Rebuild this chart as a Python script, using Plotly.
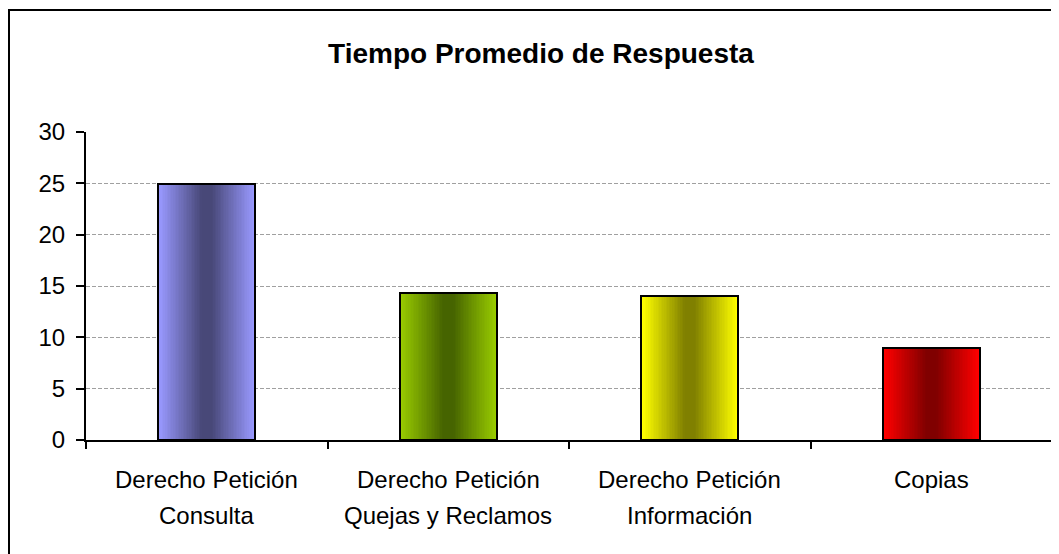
import plotly.graph_objects as go

categories = ["Derecho Petición<br>Consulta", "Derecho Petición<br>Quejas y Reclamos",
              "Derecho Petición<br>Información", "Copias"]
line1 = ["Derecho Petición", "Derecho Petición", "Derecho Petición", "Copias"]
line2 = ["Consulta", "Quejas y Reclamos", "Información", ""]
values = [24.9, 14.3, 14.0, 9.0]
light_colors = [(153, 153, 255), (153, 204, 0), (255, 255, 0), (255, 0, 0)]
dark_colors = [(72, 72, 120), (70, 100, 0), (128, 128, 0), (128, 0, 0)]
y_ticks = [0, 5, 10, 15, 20, 25, 30]

BAR_W = 0.4
N = 30
FONT = "Liberation Sans, Arial, sans-serif"
W, H = 1051, 546          # page body has an 8px margin
L, R, T, B = 78, 7, 124, 114
PW, PH = W - L - R, H - T - B

fig = go.Figure()

def mix(a, b, t):
    return "rgb(%d,%d,%d)" % tuple(round(a[j] + (b[j] - a[j]) * t) for j in range(3))

# nested centered bars: outer light -> inner dark (symmetric gradient)
for k in range(N):
    t = k / (N - 1)
    t = min(1.0, t * 1.1)
    cols = [mix(light_colors[i], dark_colors[i], t) for i in range(len(values))]
    fig.add_trace(go.Bar(
        x=categories, y=values, width=BAR_W * (N - k) / N,
        marker=dict(color=cols, line=dict(width=0)),
        showlegend=False, hoverinfo="skip"))

# outline
fig.add_trace(go.Bar(
    x=categories, y=values, width=BAR_W,
    marker=dict(color="rgba(0,0,0,0)", line=dict(color="black", width=2)),
    showlegend=False))

# category labels (two lines, wider spacing than plotly's default)
for c, a, b in zip(categories, line1, line2):
    fig.add_annotation(x=c, xref="x", y=0, yref="y", text=a, showarrow=False,
                       yshift=-39, font=dict(family=FONT, size=24, color="black"))
    if b:
        fig.add_annotation(x=c, xref="x", y=0, yref="y", text=b, showarrow=False,
                           yshift=-75, font=dict(family=FONT, size=24, color="black"))

# outer chart border
fig.add_shape(type="rect", xref="paper", yref="paper",
              x0=(1 - L) / PW, x1=1.2, y0=-0.6, y1=(PH + T - 2) / PH,
              line=dict(color="black", width=2), fillcolor="rgba(0,0,0,0)", layer="below")

fig.update_layout(
    width=W, height=H,
    margin=dict(l=L, r=R, t=T, b=B),
    paper_bgcolor="white", plot_bgcolor="white",
    barmode="overlay", bargap=0,
    title=dict(text="<b>Tiempo Promedio de Respuesta</b>", x=533 / W, xanchor="center",
               y=1 - 45 / H, yanchor="middle",
               font=dict(family=FONT, size=28, color="black")),
    xaxis=dict(showticklabels=False, tickson="boundaries", ticks="outside", ticklen=7,
               tickcolor="black", tickwidth=2, showline=True, linecolor="black", linewidth=2,
               showgrid=False, zeroline=False, range=[-0.5, 3.5]),
    yaxis=dict(range=[0, 30], tickvals=y_ticks, ticks="outside", ticklen=8, tickcolor="black",
               tickwidth=2, showline=True, linecolor="black", linewidth=2,
               showgrid=True, gridcolor="#a0a0a0", gridwidth=1, griddash="4px,2px",
               zeroline=False, ticklabelstandoff=6,
               tickfont=dict(family=FONT, size=24, color="black")),
)

fig.write_html("out.html")
